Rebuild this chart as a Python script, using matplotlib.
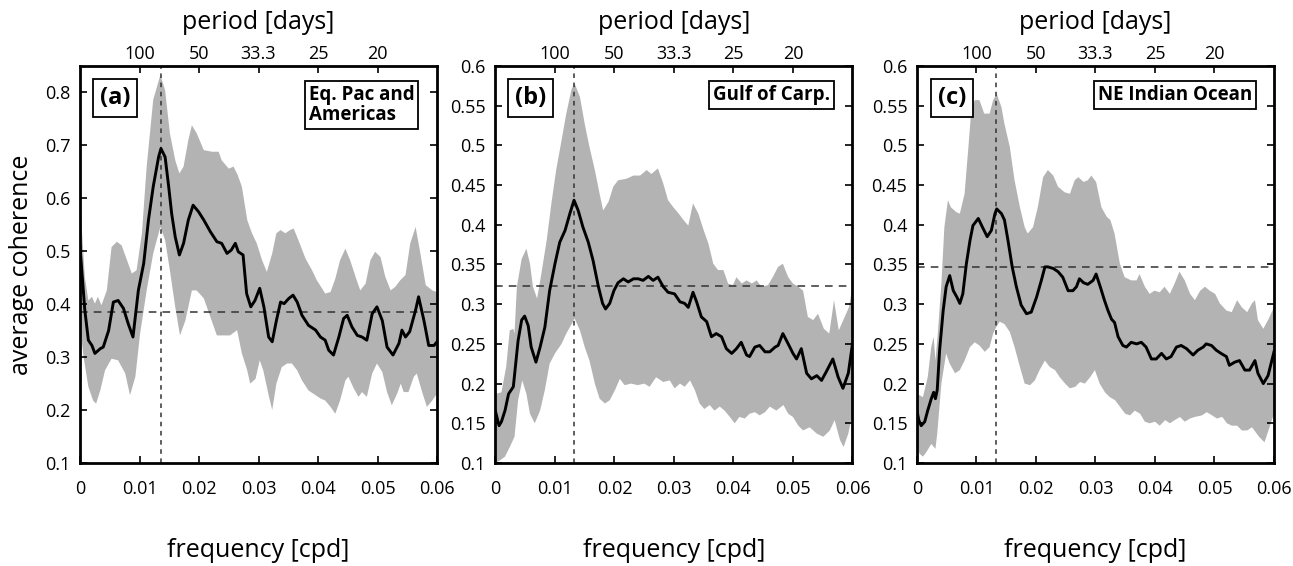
import numpy as np
import matplotlib
matplotlib.use('Agg')
import matplotlib.pyplot as plt

plt.rcParams['font.family'] = ['Open Sans', 'DejaVu Sans']

# ---- panel (a): Eq. Pac and Americas ----
a_mean_f = [0, 0.0008, 0.0014, 0.002, 0.0025, 0.0034, 0.0039, 0.0048, 0.0056, 0.0064,
            0.0073, 0.0081, 0.0089, 0.0098, 0.0107, 0.0115, 0.0123, 0.0132, 0.0136, 0.0143,
            0.0149, 0.0154, 0.016, 0.0167, 0.0174, 0.0182, 0.019, 0.0199, 0.0208, 0.0219,
            0.023, 0.0238, 0.0247, 0.0254, 0.0261, 0.0266, 0.0274, 0.028, 0.0287, 0.0294,
            0.0302, 0.0309, 0.0317, 0.0323, 0.033, 0.0337, 0.0343, 0.0351, 0.0358, 0.0365,
            0.0373, 0.0384, 0.0396, 0.0404, 0.0412, 0.0418, 0.0426, 0.0435, 0.0443, 0.0449,
            0.0457, 0.0466, 0.0474, 0.0482, 0.0491, 0.0499, 0.0508, 0.0516, 0.0526, 0.0536,
            0.0541, 0.0547, 0.0554, 0.0564, 0.0569, 0.0578, 0.0586, 0.0595, 0.06]
a_mean = [0.508, 0.389, 0.332, 0.322, 0.307, 0.316, 0.319, 0.35, 0.404, 0.407,
          0.392, 0.363, 0.338, 0.426, 0.477, 0.559, 0.622, 0.678, 0.694, 0.678,
          0.622, 0.571, 0.527, 0.493, 0.515, 0.559, 0.587, 0.575, 0.559, 0.537,
          0.518, 0.515, 0.496, 0.502, 0.515, 0.499, 0.493, 0.42, 0.395, 0.407,
          0.43, 0.395, 0.338, 0.329, 0.369, 0.404, 0.401, 0.411, 0.417, 0.404,
          0.379, 0.36, 0.351, 0.338, 0.332, 0.313, 0.304, 0.338, 0.373, 0.379,
          0.357, 0.341, 0.338, 0.332, 0.382, 0.395, 0.369, 0.319, 0.304, 0.326,
          0.351, 0.338, 0.348, 0.389, 0.414, 0.369, 0.322, 0.322, 0.329]
a_up_f = [0, 0.0008, 0.0014, 0.002, 0.0025, 0.003, 0.0036, 0.0045, 0.0053, 0.0062,
          0.007, 0.0077, 0.0087, 0.0095, 0.0104, 0.0112, 0.0123, 0.0135, 0.0143, 0.0151,
          0.016, 0.0167, 0.0174, 0.0182, 0.0188, 0.0196, 0.0208, 0.0222, 0.0233, 0.0238,
          0.025, 0.0258, 0.0265, 0.0272, 0.0281, 0.0289, 0.0297, 0.0306, 0.0314, 0.0323,
          0.033, 0.0337, 0.0345, 0.0353, 0.0359, 0.0367, 0.0379, 0.039, 0.0398, 0.0405,
          0.0412, 0.0421, 0.0429, 0.0437, 0.0446, 0.0454, 0.0463, 0.0471, 0.048, 0.0488,
          0.0496, 0.0505, 0.0513, 0.0522, 0.053, 0.0538, 0.0547, 0.0555, 0.0564, 0.0572,
          0.0581, 0.0592, 0.06]
a_up = [0.597, 0.452, 0.407, 0.414, 0.401, 0.414, 0.398, 0.426, 0.508, 0.518,
        0.511, 0.489, 0.458, 0.464, 0.534, 0.66, 0.786, 0.833, 0.804, 0.723,
        0.672, 0.647, 0.66, 0.71, 0.738, 0.723, 0.691, 0.688, 0.688, 0.672,
        0.656, 0.66, 0.644, 0.622, 0.559, 0.534, 0.515, 0.483, 0.461, 0.496,
        0.534, 0.54, 0.534, 0.54, 0.543, 0.521, 0.486, 0.464, 0.445, 0.433,
        0.42, 0.423, 0.448, 0.483, 0.505, 0.483, 0.452, 0.426, 0.439, 0.483,
        0.499, 0.489, 0.452, 0.426, 0.433, 0.445, 0.455, 0.515, 0.546, 0.496,
        0.436, 0.426, 0.423]
a_lo_f = [0, 0.0006, 0.0014, 0.0022, 0.0027, 0.0034, 0.0042, 0.0053, 0.0064, 0.0076,
          0.0084, 0.0093, 0.0101, 0.0112, 0.0123, 0.0135, 0.0143, 0.0151, 0.016, 0.0168,
          0.0177, 0.0188, 0.0196, 0.0208, 0.0219, 0.023, 0.0241, 0.0252, 0.0264, 0.0272,
          0.0281, 0.0286, 0.0295, 0.0302, 0.0308, 0.0317, 0.0323, 0.033, 0.0339, 0.0348,
          0.0356, 0.0365, 0.0373, 0.0384, 0.0396, 0.0404, 0.0412, 0.0421, 0.0429, 0.0437,
          0.0446, 0.0451, 0.046, 0.0468, 0.0474, 0.0482, 0.0491, 0.0499, 0.0508, 0.0516,
          0.0524, 0.0533, 0.0539, 0.0544, 0.0552, 0.0561, 0.0566, 0.0575, 0.0583, 0.0592,
          0.06]
a_lo = [0.36, 0.30, 0.244, 0.218, 0.212, 0.237, 0.275, 0.297, 0.294, 0.269,
        0.228, 0.263, 0.345, 0.426, 0.496, 0.546, 0.521, 0.464, 0.395, 0.341,
        0.369, 0.426, 0.426, 0.411, 0.376, 0.341, 0.341, 0.341, 0.351, 0.307,
        0.275, 0.25, 0.259, 0.294, 0.275, 0.228, 0.2, 0.25, 0.281, 0.288,
        0.288, 0.275, 0.256, 0.237, 0.228, 0.222, 0.218, 0.206, 0.193, 0.218,
        0.256, 0.263, 0.241, 0.225, 0.234, 0.225, 0.269, 0.288, 0.272, 0.234,
        0.209, 0.231, 0.25, 0.234, 0.234, 0.263, 0.269, 0.234, 0.206, 0.218,
        0.231]

# ---- panel (b): Gulf of Carp. ----
b_mean_f = [0, 0.0006, 0.001, 0.0016, 0.0022, 0.003, 0.0038, 0.0044, 0.0049, 0.0055,
            0.006, 0.0068, 0.0075, 0.0083, 0.0091, 0.01, 0.0108, 0.0117, 0.0125, 0.0132,
            0.0139, 0.0147, 0.0156, 0.0164, 0.0173, 0.018, 0.0185, 0.0192, 0.0199, 0.0206,
            0.0215, 0.0223, 0.0232, 0.024, 0.0248, 0.0257, 0.0265, 0.0273, 0.0282, 0.029,
            0.0301, 0.031, 0.0318, 0.0324, 0.0332, 0.0338, 0.0346, 0.0355, 0.0363, 0.0371,
            0.038, 0.0388, 0.0397, 0.0405, 0.0413, 0.0422, 0.0427, 0.0436, 0.0444, 0.0453,
            0.0461, 0.047, 0.0475, 0.0483, 0.0492, 0.05, 0.0506, 0.0514, 0.0523, 0.0531,
            0.054, 0.0548, 0.0556, 0.0567, 0.0576, 0.0584, 0.0593, 0.06]
b_mean = [0.165, 0.147, 0.152, 0.166, 0.187, 0.196, 0.254, 0.28, 0.285, 0.273,
          0.246, 0.227, 0.246, 0.271, 0.317, 0.351, 0.378, 0.393, 0.414, 0.431,
          0.418, 0.397, 0.378, 0.355, 0.322, 0.301, 0.294, 0.301, 0.317, 0.327,
          0.332, 0.328, 0.332, 0.332, 0.33, 0.335, 0.33, 0.334, 0.322, 0.315,
          0.313, 0.303, 0.301, 0.296, 0.315, 0.303, 0.284, 0.278, 0.259, 0.263,
          0.259, 0.244, 0.238, 0.244, 0.252, 0.236, 0.234, 0.246, 0.248, 0.24,
          0.24, 0.246, 0.248, 0.263, 0.25, 0.238, 0.231, 0.244, 0.213, 0.206,
          0.21, 0.204, 0.215, 0.231, 0.208, 0.194, 0.213, 0.25]
b_up_f = [0, 0.001, 0.0018, 0.0024, 0.003, 0.0032, 0.0036, 0.0044, 0.0052, 0.0058,
          0.0063, 0.007, 0.0077, 0.0086, 0.0094, 0.0102, 0.0111, 0.0119, 0.0128, 0.0133,
          0.0142, 0.015, 0.0158, 0.0167, 0.0175, 0.0181, 0.019, 0.0198, 0.0206, 0.022,
          0.0232, 0.0243, 0.0254, 0.0262, 0.0273, 0.0282, 0.029, 0.0299, 0.0308, 0.0316,
          0.0324, 0.0332, 0.0341, 0.035, 0.0358, 0.0366, 0.0374, 0.0383, 0.0391, 0.0399,
          0.0405, 0.0414, 0.0422, 0.0431, 0.0439, 0.0447, 0.0458, 0.0466, 0.0475, 0.0483,
          0.0492, 0.05, 0.0509, 0.0517, 0.0525, 0.0534, 0.0542, 0.0552, 0.0561, 0.0569,
          0.0577, 0.0594, 0.06]
b_up = [0.187, 0.189, 0.221, 0.267, 0.269, 0.263, 0.322, 0.357, 0.37, 0.351,
        0.322, 0.307, 0.338, 0.38, 0.427, 0.469, 0.506, 0.54, 0.571, 0.578,
        0.561, 0.527, 0.498, 0.469, 0.439, 0.418, 0.429, 0.448, 0.456, 0.458,
        0.462, 0.462, 0.469, 0.464, 0.471, 0.452, 0.431, 0.422, 0.414, 0.406,
        0.399, 0.427, 0.414, 0.393, 0.376, 0.351, 0.343, 0.343, 0.326, 0.324,
        0.334, 0.326, 0.33, 0.326, 0.33, 0.322, 0.324, 0.334, 0.347, 0.351,
        0.334, 0.326, 0.322, 0.317, 0.284, 0.28, 0.288, 0.269, 0.263, 0.305,
        0.267, 0.296, 0.322]
b_lo_f = [0, 0.0007, 0.0016, 0.0024, 0.0032, 0.0038, 0.0045, 0.0052, 0.0058, 0.0066,
          0.0075, 0.0083, 0.0091, 0.01, 0.0111, 0.0119, 0.0128, 0.0133, 0.0142, 0.015,
          0.0158, 0.0167, 0.0175, 0.0184, 0.0192, 0.0201, 0.0209, 0.0217, 0.0228, 0.0239,
          0.025, 0.0259, 0.027, 0.0282, 0.0293, 0.0301, 0.031, 0.0318, 0.0327, 0.0335,
          0.0343, 0.0351, 0.036, 0.0368, 0.0377, 0.0385, 0.0394, 0.0402, 0.041, 0.0419,
          0.0427, 0.0436, 0.0444, 0.0453, 0.0461, 0.0472, 0.0484, 0.0492, 0.05, 0.0509,
          0.0517, 0.0528, 0.054, 0.0551, 0.0562, 0.057, 0.0579, 0.0585, 0.0593, 0.06]
b_lo = [0.1, 0.103, 0.108, 0.12, 0.133, 0.179, 0.204, 0.187, 0.162, 0.15,
        0.166, 0.192, 0.225, 0.238, 0.25, 0.263, 0.275, 0.282, 0.267, 0.246,
        0.229, 0.2, 0.181, 0.175, 0.179, 0.192, 0.206, 0.198, 0.2, 0.198,
        0.2, 0.196, 0.208, 0.202, 0.204, 0.194, 0.2, 0.196, 0.204, 0.192,
        0.175, 0.168, 0.173, 0.166, 0.171, 0.166, 0.158, 0.15, 0.158, 0.156,
        0.162, 0.164, 0.16, 0.164, 0.171, 0.166, 0.173, 0.162, 0.158, 0.147,
        0.141, 0.145, 0.137, 0.133, 0.141, 0.154, 0.129, 0.12, 0.137, 0.162]

# ---- panel (c): NE Indian Ocean ----
c_mean_f = [0, 0.0003, 0.0007, 0.0013, 0.0018, 0.0024, 0.0028, 0.0031, 0.0034, 0.0038,
            0.0044, 0.0049, 0.0055, 0.0061, 0.0067, 0.0072, 0.0077, 0.0083, 0.0089, 0.0094,
            0.0103, 0.011, 0.0118, 0.0125, 0.0131, 0.0134, 0.0142, 0.0147, 0.0153, 0.016,
            0.0167, 0.0175, 0.0184, 0.0192, 0.0201, 0.0209, 0.0215, 0.022, 0.0229, 0.0237,
            0.0245, 0.0254, 0.0262, 0.0268, 0.0273, 0.028, 0.0287, 0.0296, 0.0301, 0.0308,
            0.0315, 0.0321, 0.0327, 0.0332, 0.0338, 0.0346, 0.0352, 0.036, 0.0369, 0.0377,
            0.0385, 0.0394, 0.0402, 0.0411, 0.0419, 0.0427, 0.0436, 0.0444, 0.0453, 0.0464,
            0.0472, 0.0481, 0.0486, 0.0495, 0.0503, 0.0511, 0.052, 0.0525, 0.0534, 0.0542,
            0.0551, 0.0559, 0.0568, 0.0573, 0.0582, 0.059, 0.06]
c_mean = [0.166, 0.154, 0.147, 0.152, 0.166, 0.181, 0.189, 0.181, 0.192, 0.242,
          0.292, 0.322, 0.336, 0.317, 0.309, 0.301, 0.313, 0.351, 0.38, 0.399,
          0.408, 0.397, 0.385, 0.393, 0.414, 0.42, 0.414, 0.406, 0.38, 0.347,
          0.322, 0.299, 0.288, 0.29, 0.309, 0.33, 0.347, 0.347, 0.345, 0.341,
          0.334, 0.317, 0.317, 0.322, 0.332, 0.327, 0.325, 0.33, 0.338, 0.322,
          0.305, 0.292, 0.281, 0.277, 0.259, 0.248, 0.246, 0.252, 0.25, 0.252,
          0.246, 0.231, 0.231, 0.238, 0.231, 0.234, 0.246, 0.248, 0.244, 0.236,
          0.242, 0.246, 0.25, 0.248, 0.242, 0.238, 0.234, 0.223, 0.227, 0.229,
          0.217, 0.217, 0.229, 0.213, 0.2, 0.21, 0.24]
c_up_f = [0, 0.001, 0.0018, 0.0024, 0.0028, 0.0031, 0.0035, 0.0041, 0.0046, 0.0052,
          0.0057, 0.0066, 0.0072, 0.0080, 0.0086, 0.0091, 0.0097, 0.0105, 0.0113, 0.0122,
          0.0128, 0.0134, 0.0142, 0.0147, 0.0156, 0.0164, 0.0173, 0.0181, 0.0186, 0.0195,
          0.0203, 0.0212, 0.022, 0.0229, 0.0237, 0.0248, 0.0257, 0.0265, 0.0271, 0.028,
          0.0287, 0.0293, 0.0301, 0.031, 0.0319, 0.0325, 0.0332, 0.0341, 0.0349, 0.036,
          0.0369, 0.0374, 0.0383, 0.0391, 0.0399, 0.0408, 0.0416, 0.0425, 0.0433, 0.0441,
          0.045, 0.0459, 0.0467, 0.0476, 0.0484, 0.0492, 0.0501, 0.0509, 0.052, 0.0529,
          0.0538, 0.0546, 0.0555, 0.0563, 0.0568, 0.0573, 0.0582, 0.059, 0.06]
c_up = [0.187, 0.183, 0.208, 0.246, 0.259, 0.229, 0.263, 0.326, 0.397, 0.431,
        0.422, 0.416, 0.414, 0.439, 0.494, 0.542, 0.557, 0.557, 0.54, 0.54,
        0.557, 0.565, 0.548, 0.527, 0.498, 0.456, 0.422, 0.397, 0.389, 0.397,
        0.422, 0.46, 0.469, 0.462, 0.448, 0.441, 0.439, 0.456, 0.46, 0.454,
        0.456, 0.462, 0.454, 0.422, 0.41, 0.406, 0.389, 0.351, 0.334, 0.33,
        0.33, 0.338, 0.322, 0.313, 0.317, 0.315, 0.322, 0.313, 0.326, 0.341,
        0.33, 0.313, 0.305, 0.317, 0.322, 0.317, 0.313, 0.301, 0.292, 0.29,
        0.305, 0.296, 0.29, 0.301, 0.305, 0.28, 0.269, 0.28, 0.296]
c_lo_f = [0, 0.0004, 0.001, 0.0016, 0.0024, 0.0031, 0.0034, 0.0041, 0.0049, 0.0055,
          0.0064, 0.0072, 0.0080, 0.0089, 0.0097, 0.0105, 0.0114, 0.0122, 0.0128, 0.0133,
          0.0139, 0.0147, 0.0156, 0.0164, 0.0173, 0.0181, 0.019, 0.0198, 0.0206, 0.0215,
          0.0223, 0.0232, 0.024, 0.0249, 0.0257, 0.0266, 0.0274, 0.0282, 0.0291, 0.0299,
          0.0307, 0.0316, 0.0324, 0.0333, 0.0341, 0.035, 0.0358, 0.0366, 0.0375, 0.0383,
          0.0391, 0.04, 0.0408, 0.0417, 0.0425, 0.0433, 0.0442, 0.045, 0.0459, 0.0467,
          0.0479, 0.0487, 0.0496, 0.0504, 0.0513, 0.0521, 0.0529, 0.0538, 0.0546, 0.0555,
          0.0563, 0.0575, 0.0584, 0.06]
c_lo = [0.129, 0.112, 0.108, 0.114, 0.124, 0.118, 0.137, 0.2, 0.238, 0.225,
        0.213, 0.217, 0.229, 0.246, 0.252, 0.248, 0.24, 0.246, 0.263, 0.271,
        0.278, 0.275, 0.265, 0.246, 0.221, 0.2, 0.198, 0.204, 0.217, 0.229,
        0.221, 0.217, 0.208, 0.2, 0.194, 0.196, 0.202, 0.2, 0.208, 0.217,
        0.2, 0.189, 0.183, 0.179, 0.171, 0.162, 0.16, 0.166, 0.162, 0.152,
        0.15, 0.152, 0.147, 0.154, 0.15, 0.154, 0.158, 0.152, 0.156, 0.158,
        0.16, 0.164, 0.16, 0.156, 0.158, 0.15, 0.147, 0.147, 0.141, 0.141,
        0.145, 0.133, 0.126, 0.162]

panel_tags = ['(a)', '(b)', '(c)']
region_names = ['Eq. Pac and\nAmericas', 'Gulf of Carp.', 'NE Indian Ocean']
sig_levels = [0.385, 0.3225, 0.347]   # horizontal dashed line
peak_freqs = [0.0136, 0.0132, 0.0133]  # vertical dotted line
freq_ticks = [0, 0.01, 0.02, 0.03, 0.04, 0.05, 0.06]
freq_labels = ['0', '0.01', '0.02', '0.03', '0.04', '0.05', '0.06']
period_ticks = [0.01, 0.02, 0.03, 0.04, 0.05]
period_labels = ['100', '50', '33.3', '25', '20']

panels = [
    (a_mean_f, a_mean, a_up_f, a_up, a_lo_f, a_lo, (0.1, 0.85), np.arange(0.1, 0.81, 0.1)),
    (b_mean_f, b_mean, b_up_f, b_up, b_lo_f, b_lo, (0.1, 0.6), np.arange(0.1, 0.601, 0.05)),
    (c_mean_f, c_mean, c_up_f, c_up, c_lo_f, c_lo, (0.1, 0.6), np.arange(0.1, 0.601, 0.05)),
]
lefts = [0.0619, 0.3832, 0.7092]
box_right = [0.936, 0.937, 0.939]

fig = plt.figure(figsize=(12.93, 5.66), dpi=100)

for i, (mf, mv, uf, uv, lf, lv, ylim, yticks) in enumerate(panels):
    ax = fig.add_axes([lefts[i], 0.182, 0.2761, 0.7014])

    band_x = np.concatenate([uf, lf[::-1]])
    band_y = np.concatenate([uv, lv[::-1]])
    ax.fill(band_x, band_y, color='#b3b3b3', lw=0, zorder=1)
    ax.plot(mf, mv, color='black', lw=2.1, zorder=3)

    ax.axhline(sig_levels[i], color='#333333', lw=1.1, ls=(0, (5, 4)), zorder=2)
    ax.axvline(peak_freqs[i], color='#333333', lw=1.1, ls=(0, (3, 3)), zorder=2)

    ax.set_xlim(0, 0.06)
    ax.set_ylim(*ylim)
    ax.set_xticks(freq_ticks)
    ax.set_xticklabels(freq_labels)
    ax.set_yticks(yticks)
    ax.set_yticklabels(['%g' % round(t, 2) for t in yticks])
    ax.tick_params(direction='in', length=5, width=1.2, labelsize=13,
                   right=True, top=False)
    ax.tick_params(axis='x', pad=12)
    ax.tick_params(axis='y', pad=7)
    for s in ax.spines.values():
        s.set_linewidth(2)

    top = ax.secondary_xaxis('top')
    top.set_xticks(period_ticks)
    top.set_xticklabels(period_labels)
    top.tick_params(direction='in', length=5, width=1.2, labelsize=13, pad=2)
    top.set_xlabel('period [days]', fontsize=18, labelpad=12)

    ax.set_xlabel('frequency [cpd]', fontsize=18, labelpad=29)
    if i == 0:
        ax.set_ylabel('average coherence', fontsize=18, labelpad=8)

    ax.text(0.098, 0.92, panel_tags[i], transform=ax.transAxes, fontsize=17,
            fontweight='bold', ha='center', va='center', zorder=5,
            bbox=dict(boxstyle='square,pad=0.3', fc='white', ec='black', lw=1.3))
    ax.text(box_right[i], 0.952, region_names[i], transform=ax.transAxes, fontsize=13.5,
            fontweight='bold', ha='right', va='top', multialignment='left',
            linespacing=1.0, zorder=5,
            bbox=dict(boxstyle='square,pad=0.2', fc='white', ec='black', lw=1.3))

fig.savefig('out.png', dpi=100)
